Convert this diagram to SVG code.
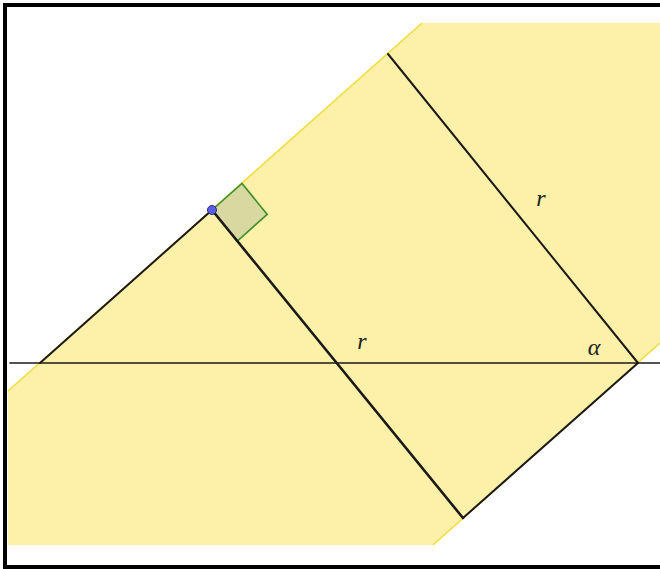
<svg xmlns="http://www.w3.org/2000/svg" width="660" height="569" viewBox="0 0 660 569">
  <style>
    .band { fill: #fdf0a8; stroke: none; }
    .bandEdge { fill: none; stroke: #f2dc3a; stroke-width: 1.5; }
    .ln { fill: none; stroke: #1a1a1a; stroke-linecap: round; }
    .lbl { font-family: "Liberation Serif", "DejaVu Serif", serif; font-style: italic; font-size: 24px; fill: #222; text-anchor: middle; }
  </style>
  <rect width="660" height="569" fill="#ffffff"/>
  <g id="band">
    <polygon class="band" points="8,391 422,23 660,23 660,343 433,545 8,545"/>
    <polyline class="bandEdge" points="8,391 422,23"/>
    <polyline class="bandEdge" points="660,343 433,545"/>
  </g>
  <g id="right-angle">
    <polygon points="212,210 242,183.4 267.2,214.4 237.3,241" fill="#d9d8a0" stroke="#3f8f2a" stroke-width="1.6"/>
  </g>
  <g id="connectors">
    <line class="ln" x1="10" y1="363" x2="660" y2="363" stroke-width="1.6"/>
    <line class="ln" x1="40" y1="363" x2="212" y2="210" stroke-width="2"/>
    <line class="ln" x1="212" y1="210" x2="463" y2="518" stroke-width="2.6"/>
    <line class="ln" x1="388" y1="54" x2="638" y2="363" stroke-width="2"/>
    <line class="ln" x1="463" y1="518" x2="638" y2="363" stroke-width="2"/>
  </g>
  <g id="point-P">
    <circle cx="212" cy="210" r="4.5" fill="#5a5ee6" stroke="#2a2a70" stroke-width="1"/>
  </g>
  <g id="labels">
    <text class="lbl" x="362" y="349">r</text>
    <text class="lbl" x="541" y="206">r</text>
    <text class="lbl" x="594" y="355">α</text>
  </g>
  <rect id="frame" x="5" y="5" width="700" height="562" fill="none" stroke="#000" stroke-width="4"/>
</svg>
